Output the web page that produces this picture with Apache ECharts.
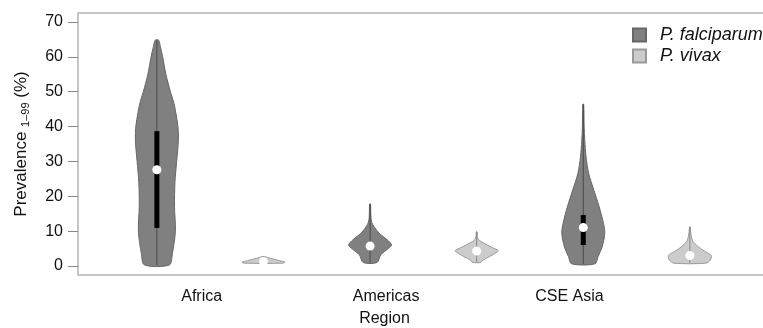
<!DOCTYPE html>
<html>
<head>
<meta charset="utf-8">
<script src="https://cdn.jsdelivr.net/npm/echarts@6/dist/echarts.min.js"></script>
<style>
  html, body { margin: 0; padding: 0; background: #fff; }
  #chart { width: 763px; height: 328px; }
</style>
</head>
<body>
<div id="chart"></div>
<script>
// 地区与物种
var categories = ['Africa', 'Americas', 'CSE Asia'];
var species = ['P. falciparum', 'P. vivax'];
var labelPos = [1.42, 3.15, 4.87];
var yTicks = [0, 10, 20, 30, 40, 50, 60, 70];

// 密度轮廓: [患病率, 相对宽度]
var africaFalc = [[0.3, 0.58], [3.5, 0.72], [10, 0.86], [17, 0.82], [24, 0.84], [30, 0.92], [36, 1.0],
    [40, 0.98], [44, 0.88], [47, 0.78], [50, 0.63], [55, 0.42], [60, 0.27], [63, 0.16], [64.8, 0.08]];
var africaViv = [[0.8, 0.9], [1.1, 1.0], [1.5, 0.75], [2.0, 0.45], [2.4, 0.2], [2.7, 0.05]];
var americasFalc = [[1.0, 0.32], [3.2, 0.5], [5.0, 0.85], [6.0, 1.0], [7.5, 0.8], [9.4, 0.42], [11.3, 0.18],
    [12.5, 0.08], [14, 0.04], [17.8, 0.02]];
var americasViv = [[1.0, 0.2], [1.5, 0.25], [2.7, 0.6], [3.6, 0.85], [4.4, 1.0], [5.2, 0.75], [6.0, 0.5],
    [7.0, 0.2], [7.6, 0.08], [8.5, 0.03], [9.8, 0.02]];
var asiaFalc = [[0.6, 0.54], [2.7, 0.69], [5.5, 0.88], [9.4, 1.0], [12.2, 0.94], [17, 0.74], [21.8, 0.49],
    [26.6, 0.25], [31.3, 0.13], [36, 0.07], [40, 0.04], [46.4, 0.02]];
var asiaViv = [[0.8, 0.75], [1.7, 0.95], [3.0, 1.0], [4.1, 0.72], [5.0, 0.5], [6.0, 0.3], [7.0, 0.15],
    [7.9, 0.09], [9.5, 0.04], [11.2, 0.02]];

// 中位数和四分位距
var falcMedian = [27.6, 5.7, 11.0];
var vivMedian = [1.3, 4.3, 3.0];
var falcIqr = [[10.9, 38.7], null, [6.0, 14.6]];
var vivIqr = [null, null, null];

var FONT = '"Liberation Sans", Arial, sans-serif';
var HALF = 21.5; // 小提琴最大半宽(px)
var BOX = { show: true, onZero: false, lineStyle: { color: '#b4b4b4', width: 1.5 } };

function violinRender(profiles, iqrs, fill, stroke, whiskerColor) {
    return function (params, api) {
        var i = params.dataIndex;
        var x = api.value(0);
        var prof = profiles[i];
        var right = [], left = [];
        prof.forEach(function (p) {
            var c = api.coord([x, p[0]]);
            right.push([c[0] + p[1] * HALF, c[1]]);
            left.unshift([c[0] - p[1] * HALF, c[1]]);
        });
        var lo = api.coord([x, prof[0][0]]);
        var hi = api.coord([x, prof[prof.length - 1][0]]);
        var med = api.coord([x, api.value(1)]);
        var children = [{
            type: 'polygon',
            shape: { points: right.concat(left), smooth: 0.3 },
            style: { fill: fill, stroke: stroke, lineWidth: 1 }
        }, {
            type: 'line',
            shape: { x1: lo[0], y1: lo[1], x2: hi[0], y2: hi[1] },
            style: { stroke: whiskerColor, lineWidth: 1 }
        }];
        if (iqrs[i]) {
            var q1 = api.coord([x, iqrs[i][0]]);
            var q3 = api.coord([x, iqrs[i][1]]);
            children.push({
                type: 'rect',
                shape: { x: q1[0] - 2.5, y: q3[1], width: 5, height: q1[1] - q3[1] },
                style: { fill: '#000' }
            });
        }
        children.push({
            type: 'circle',
            shape: { cx: med[0], cy: med[1], r: 4.5 },
            style: { fill: '#fff' }
        });
        return { type: 'group', children: children };
    };
}

var chart = echarts.init(document.getElementById('chart'));

var option = {
    animation: false,
    grid: {
        left: 78, right: 0, top: 13, bottom: 53,
        outerBoundsMode: 'none'
    },
    legend: {
        orient: 'vertical',
        left: 627, top: 21,
        itemWidth: 13, itemHeight: 13, itemGap: 3,
        icon: 'rect',
        data: species,
        textStyle: { fontStyle: 'italic', fontSize: 18, color: '#111', fontFamily: FONT, padding: [0, 0, 0, 9] }
    },
    xAxis: [{
        type: 'value',
        min: 0.26, max: 6.686,
        name: 'Region',
        nameLocation: 'middle',
        nameGap: 36,
        nameTextStyle: { fontSize: 16, color: '#111', fontFamily: FONT, padding: [0, 72, 0, 0] },
        axisLine: BOX,
        axisTick: { show: false },
        splitLine: { show: false },
        axisLabel: {
            customValues: labelPos,
            margin: 14,
            fontSize: 16, color: '#111', fontFamily: FONT,
            formatter: function (v) {
                var best = 0;
                labelPos.forEach(function (p, k) {
                    if (Math.abs(p - v) < Math.abs(labelPos[best] - v)) best = k;
                });
                return categories[best];
            }
        }
    }, {
        // 上边框
        type: 'value',
        position: 'top',
        min: 0.26, max: 6.686,
        axisLine: BOX,
        axisTick: { show: false },
        axisLabel: { show: false },
        splitLine: { show: false }
    }],
    yAxis: {
        type: 'value',
        min: -2.6, max: 72.6,
        name: '{a|Prevalence }{b|1–99}{a| (%)}',
        nameLocation: 'middle',
        nameGap: 47,
        nameRotate: 90,
        nameTextStyle: {
            rich: {
                a: { fontSize: 17, color: '#111', fontFamily: FONT, lineHeight: 20 },
                b: { fontSize: 11, color: '#111', fontFamily: FONT, lineHeight: 11, verticalAlign: 'bottom' }
            }
        },
        axisLine: BOX,
        axisTick: { show: true, customValues: yTicks, length: 10, lineStyle: { color: '#888', width: 1 } },
        splitLine: { show: false },
        axisLabel: { customValues: yTicks, margin: 15, fontSize: 16, color: '#111', fontFamily: FONT }
    },
    series: [
        {
            name: species[0],
            type: 'custom',
            itemStyle: { color: '#808080', borderColor: '#666', borderWidth: 1 },
            renderItem: violinRender([africaFalc, americasFalc, asiaFalc], falcIqr, '#808080', '#666', '#4a4a4a'),
            encode: { x: 0, y: 1 },
            data: categories.map(function (c, i) { return [2 * i + 1, falcMedian[i]]; })
        },
        {
            name: species[1],
            type: 'custom',
            itemStyle: { color: '#cccccc', borderColor: '#999', borderWidth: 1 },
            renderItem: violinRender([africaViv, americasViv, asiaViv], vivIqr, '#cccccc', '#999', '#888'),
            encode: { x: 0, y: 1 },
            data: categories.map(function (c, i) { return [2 * i + 2, vivMedian[i]]; })
        }
    ]
};

chart.setOption(option);
</script>
</body>
</html>
